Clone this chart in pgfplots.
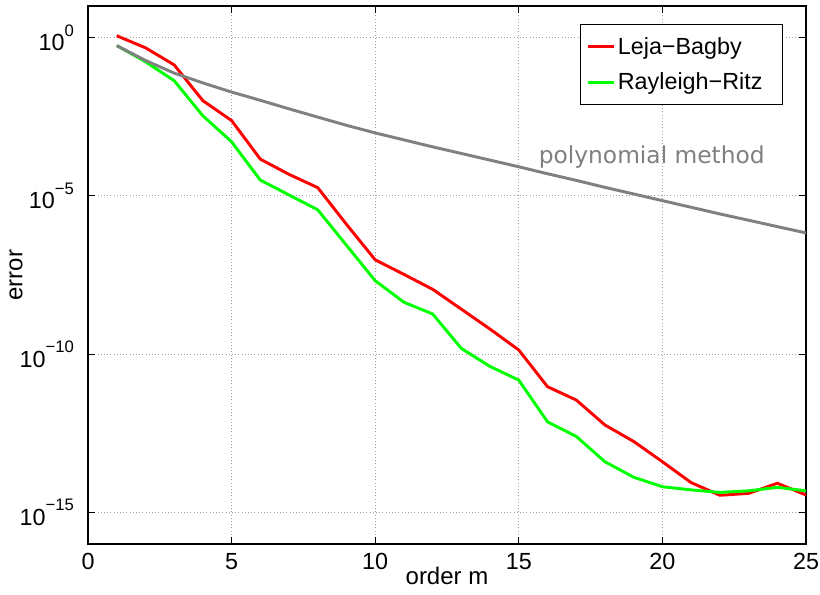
\documentclass[border=0pt]{standalone}
\usepackage{fontspec}
\setmainfont{Liberation Sans}
\newfontfamily\comicfont{DejaVu Sans}
\usepackage{pgfplots}
\pgfplotsset{compat=1.18}
\definecolor{polygray}{RGB}{128,128,128}
\definecolor{gridgray}{RGB}{160,160,160}
\newcommand{\tp}[1]{10\raisebox{0.62em}{\fontsize{12.5}{14}\selectfont #1}}
\begin{document}
\begin{tikzpicture}[x=1pt,y=1pt]
\useasboundingbox (-66,-37.5) rectangle (549,408);
\begin{axis}[
  at={(0,0)}, anchor=south west,
  scale only axis, width=538.5pt, height=403.5pt,
  xmin=0, xmax=25, ymode=log, ymin=1e-16, ymax=10,
  xtick={0,5,10,15,20,25},
  ytick={1,1e-5,1e-10,1e-15},
  yticklabels={\tp{0},\tp{−5},\tp{−10},\tp{−15}},
  /pgf/number format/assume math mode=true,
  yminorticks=false,
  grid=major,
  major grid style={dotted, gridgray, line width=0.6pt},
  tick align=inside,
  major tick length=5pt,
  axis line style={line width=0.9pt},
  every tick/.style={black, line width=0.9pt},
  tick label style={font=\fontsize{17.5}{19}\selectfont},
  xticklabel style={yshift=-3.5pt},
  yticklabel style={xshift=-7pt},
  xlabel={order m}, ylabel={error},
  label style={font=\fontsize{18}{20}\selectfont},
  xlabel style={at={(axis description cs:0.5,-0.06)}, anchor=center},
  ylabel style={at={(axis description cs:-0.1003,0.5)}, anchor=center},
  legend style={at={(axis description cs:0.968,0.966)}, anchor=north east,
    draw=black, line width=0.8pt, font=\fontsize{17.5}{21}\selectfont,
    row sep=10.5pt, inner xsep=4pt, inner ysep=8.5pt,
    nodes={inner xsep=2pt, inner ysep=1pt}},
  legend cell align=left,
  legend image code/.code={\draw[#1] (0pt,0pt) -- (19.5pt,0pt);},
]
\addplot[red, line width=2.2pt] coordinates {
(1,1.15) (2,0.479) (3,0.138) (4,1.02e-2) (5,2.40e-3) (6,1.45e-4) (7,4.79e-5)
(8,1.82e-5) (9,1.26e-6) (10,9.55e-8) (11,3.31e-8) (12,1.12e-8) (13,2.63e-9)
(14,6.17e-10) (15,1.35e-10) (16,9.33e-12) (17,3.55e-12) (18,5.75e-13)
(19,1.74e-13) (20,3.98e-14) (21,8.71e-15) (22,3.47e-15) (23,3.98e-15)
(24,8.32e-15) (25,3.55e-15)};
\addlegendentry{Leja−Bagby}
\addplot[green, line width=2.2pt] coordinates {
(1,0.562) (2,0.174) (3,4.37e-2) (4,3.39e-3) (5,5.13e-4) (6,3.16e-5) (7,1.07e-5)
(8,3.63e-6) (9,2.75e-7) (10,2.09e-8) (11,4.37e-9) (12,1.86e-9) (13,1.51e-10)
(14,4.07e-11) (15,1.51e-11) (16,7.24e-13) (17,2.51e-13) (18,3.98e-14)
(19,1.29e-14) (20,6.46e-15) (21,5.13e-15) (22,4.27e-15) (23,4.79e-15)
(24,6.17e-15) (25,4.79e-15)};
\addlegendentry{Rayleigh−Ritz\rule{9pt}{0pt}}
\addplot[polygray, line width=2.2pt, forget plot] coordinates {
(1,0.562) (2,0.191) (3,7.59e-2) (4,3.72e-2) (5,1.91e-2) (6,1.05e-2) (7,5.62e-3)
(8,3.09e-3) (9,1.70e-3) (10,9.77e-4) (11,5.89e-4) (12,3.55e-4) (13,2.19e-4)
(14,1.35e-4) (15,8.32e-5) (16,5.01e-5) (17,3.09e-5) (18,1.86e-5) (19,1.15e-5)
(20,7.08e-6) (21,4.37e-6) (22,2.69e-6) (23,1.70e-6) (24,1.07e-6) (25,6.76e-7)};
\node[text=polygray, font=\comicfont\fontsize{17.5}{19}\selectfont, anchor=center]
  at (axis cs:19.63,1.7e-4) {polynomial method};
\end{axis}
\end{tikzpicture}
\end{document}
